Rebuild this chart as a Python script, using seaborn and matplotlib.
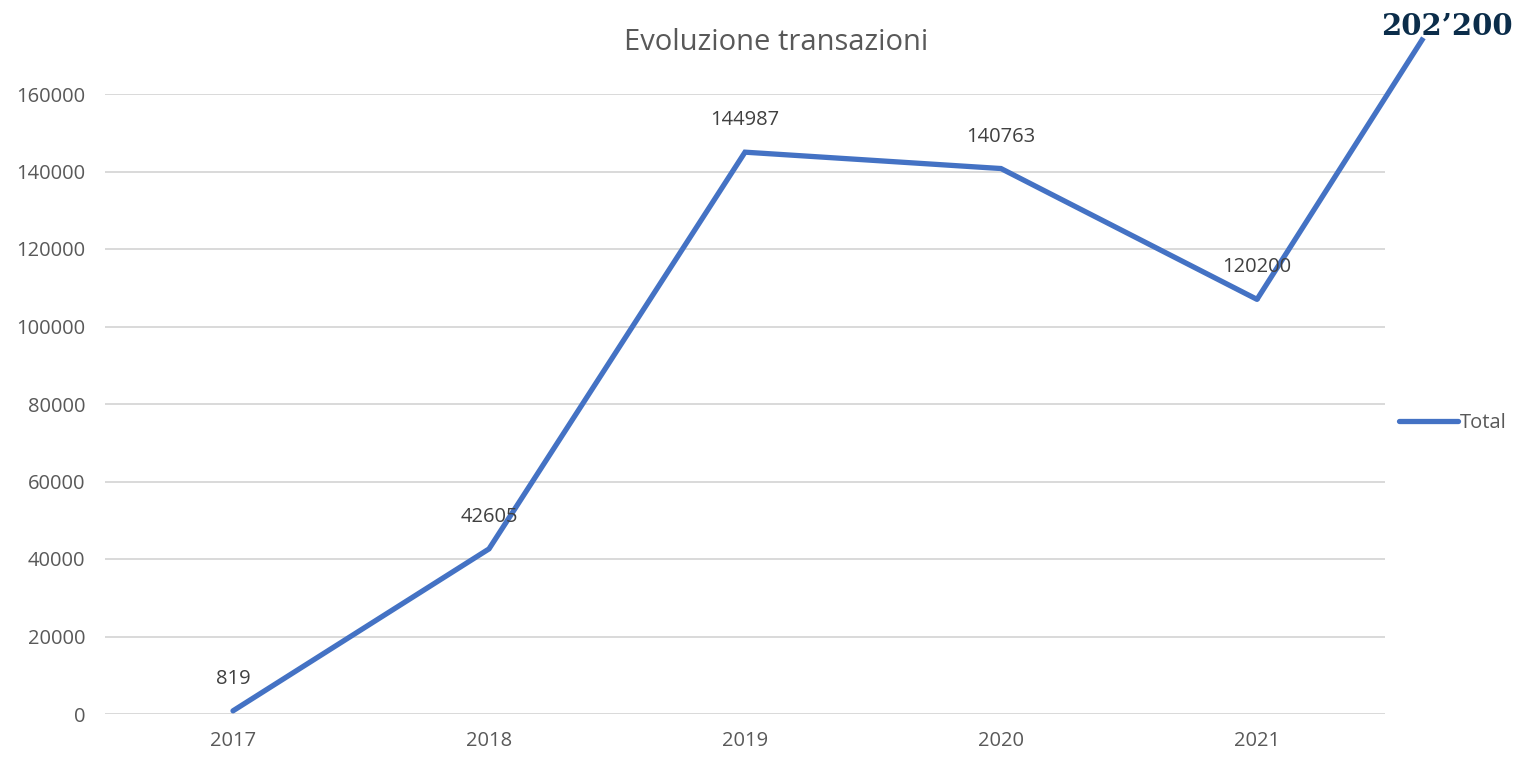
import matplotlib
matplotlib.use('Agg')
import pandas as pd
import matplotlib.pyplot as plt
import seaborn as sns

years = [2017, 2018, 2019, 2020, 2021]
totals = [819, 42605, 144987, 140763, 107000]
point_labels = ["819", "42605", "144987", "140763", "120200"]
# hand-drawn extension past the chart edge, up to the headline figure
ext_x = [2021, 2021.65]
ext_y = [107000, 174500]
ext_label = "202\u2019200"

df = pd.DataFrame({"Anno": years, "Total": totals})

sns.set_style("white")
plt.rcParams['font.family'] = ['Open Sans', 'DejaVu Sans']

fig = plt.figure(figsize=(15.36, 7.58), dpi=100)
ax = fig.add_axes([105 / 1536, 44 / 758, 1280 / 1536, 620 / 758])

blue = '#4472c4'
sns.lineplot(data=df, x="Anno", y="Total", ax=ax, color=blue, linewidth=3.8,
             solid_capstyle='round', solid_joinstyle='miter', label="Total")
ax.plot(ext_x, ext_y, color=blue, linewidth=3.8, solid_capstyle='butt', clip_on=False)

ax.set_xlim(2016.5, 2021.5)
ax.set_ylim(0, 160000)
ax.set_xticks(years)
ax.set_yticks(range(0, 160001, 20000))
ax.set_xlabel("")
ax.set_ylabel("")
ax.grid(axis='y', color='#d9d9d9', linewidth=1.4)
ax.set_axisbelow(True)
for s in ax.spines.values():
    s.set_visible(False)
ax.tick_params(axis='both', length=0, labelsize=14.5, labelcolor='#595959')
ax.tick_params(axis='y', pad=14)
ax.tick_params(axis='x', pad=12)

for x, y, lab in zip(years, totals, point_labels):
    ax.annotate(lab, (x, y), xytext=(0, 23), textcoords='offset points',
                ha='center', va='center', fontsize=14.5, color='#404040')

ax.annotate(ext_label, (ext_x[1], ext_y[1]), xytext=(17, 8), textcoords='offset points',
            ha='center', va='center', fontsize=21, fontweight='bold',
            family=['DejaVu Serif'], color='#0b2d4a',
            annotation_clip=False)

fig.text(776 / 1536, 1 - 42 / 758, "Evoluzione transazioni", ha='center', va='center',
         fontsize=21, color='#595959')

ax.legend(loc='center left', bbox_to_anchor=(1.005, 0.47), frameon=False,
          handlelength=2.9, handletextpad=0.1, fontsize=14.5, labelcolor='#595959',
          borderaxespad=0)

fig.savefig("out.png", dpi=100)
